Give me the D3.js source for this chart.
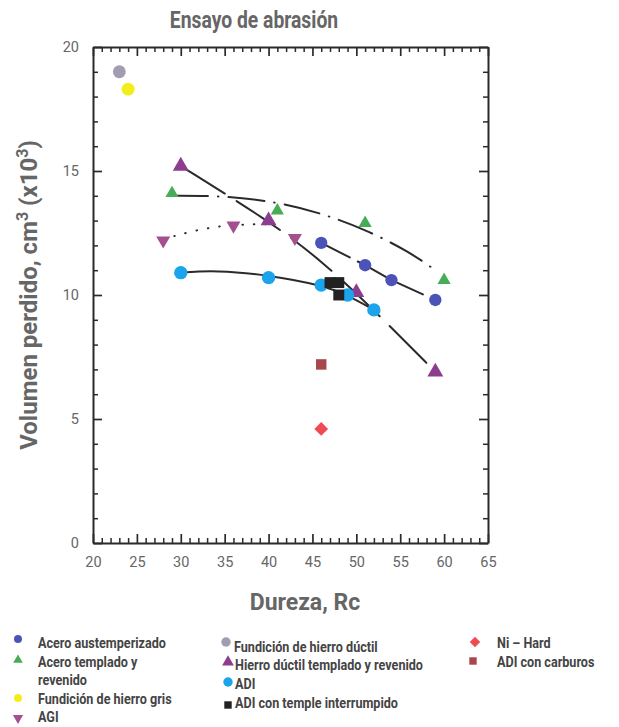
<!DOCTYPE html>
<html>
<head>
<meta charset="utf-8">
<script src="https://cdn.jsdelivr.net/npm/d3@7"></script>
<style>
  body { margin: 0; background: #fff; }
  svg { display: block; }
  text { font-family: "Roboto", "DejaVu Sans", sans-serif; }
</style>
</head>
<body>
<svg id="chart" width="619" height="727"></svg>
<script>
// Measured points, Dureza (Rc) vs volumen perdido (cm3 x10^3)
var aceroAustemperizado = [[46, 12.1], [51, 11.2], [54, 10.6], [59, 9.8]];
var aceroTemplado = [[29, 14.1], [41, 13.4], [51, 12.9], [60, 10.6]];
var hierroGris = [[24, 18.3]];
var hierroDuctil = [[23, 19.0]];
var agi = [[28, 12.2], [36, 12.8], [43, 12.3]];
var hierroDuctilTR = [[30, 15.2], [40, 13.0], [50, 10.1], [59, 6.9]];
var adi = [[30, 10.9], [40, 10.7], [46, 10.4], [49, 10.0], [52, 9.4]];
var adiTempleInterrumpido = [[47, 10.5], [48, 10.5], [48, 10.0]];
var niHard = [[46, 4.6]];
var adiCarburos = [[46, 7.2]];

// Trend curves
var fitAustemper = [[46, 12.1], [51, 11.2], [54, 10.6], [59, 9.8]];
var fitTemplado = [[29, 14.0], [35, 14.0], [41, 13.75], [46, 13.3], [51, 12.65], [56, 11.75], [59.2, 10.95]];
var fitHierroDuctilTR = [[30, 15.2], [40, 13.0], [46, 11.4], [52, 9.4], [59, 6.9]];
var fitAgi = [[28, 12.25], [32, 12.65], [36, 12.85], [40, 12.85]];
var fitAdi = [[30, 10.9], [34, 11.0], [40, 10.8], [46, 10.4], [49, 10.0], [52, 9.4]];

var xTicks = [20, 25, 30, 35, 40, 45, 50, 55, 60, 65];
var yTicks = [0, 5, 10, 15, 20];
var xMinorTicks = d3.range(21, 65, 1).filter(function (d) { return d % 5 !== 0; });
var yMinorTicks = d3.range(1, 20, 1).filter(function (d) { return d % 5 !== 0; });

var svg = d3.select("#chart");
var x = d3.scaleLinear().domain([20, 65]).range([93, 488]);
var y = d3.scaleLinear().domain([0, 20]).range([543, 47]);

var ink = "#2a2a2a";
var labelGray = "#666";

// squeeze a text horizontally to mimic the condensed face of the original
function condense(sel, k) {
  sel.each(function () {
    var w = this.getComputedTextLength();
    d3.select(this).attr("textLength", w * k).attr("lengthAdjust", "spacingAndGlyphs");
  });
}

// title
svg.append("text")
  .attr("x", 254).attr("y", 28)
  .attr("text-anchor", "middle")
  .attr("font-size", 23).attr("font-weight", "bold")
  .attr("fill", labelGray)
  .text("Ensayo de abrasión")
  .call(condense, 0.84);

// axes: the domain lines form the frame, ticks point inward on all four sides
function styleAxis(g) {
  g.select(".domain").attr("stroke", ink).attr("stroke-width", 2);
  g.selectAll(".tick line").attr("stroke", ink).attr("stroke-width", 1.7);
  g.selectAll(".tick text").attr("fill", labelGray).attr("font-size", 14.5)
    .attr("font-family", "Roboto, sans-serif");
}
function minorOnly(g) {
  g.select(".domain").remove();
  g.selectAll(".tick line").attr("stroke", ink).attr("stroke-width", 1.5);
}

var axBottom = svg.append("g").attr("transform", "translate(0," + y(0) + ")");
axBottom.append("g").call(d3.axisBottom(x).tickValues(xMinorTicks).tickSize(-5).tickFormat("")).call(minorOnly);
axBottom.append("g").call(d3.axisBottom(x).tickValues(xTicks).tickSizeInner(-9).tickSizeOuter(0).tickPadding(14)).call(styleAxis);

var axTop = svg.append("g").attr("transform", "translate(0," + y(20) + ")");
axTop.append("g").call(d3.axisTop(x).tickValues(xMinorTicks).tickSize(-5).tickFormat("")).call(minorOnly);
axTop.append("g").call(d3.axisTop(x).tickValues(xTicks).tickSizeInner(-9).tickSizeOuter(0).tickFormat("")).call(styleAxis);

var axLeft = svg.append("g").attr("transform", "translate(" + x(20) + ",0)");
axLeft.append("g").call(d3.axisLeft(y).tickValues(yMinorTicks).tickSize(-5).tickFormat("")).call(minorOnly);
axLeft.append("g").call(d3.axisLeft(y).tickValues(yTicks).tickSizeInner(-9).tickSizeOuter(0).tickPadding(14)).call(styleAxis);

var axRight = svg.append("g").attr("transform", "translate(" + x(65) + ",0)");
axRight.append("g").call(d3.axisRight(y).tickValues(yMinorTicks).tickSize(-5).tickFormat("")).call(minorOnly);
axRight.append("g").call(d3.axisRight(y).tickValues(yTicks).tickSizeInner(-9).tickSizeOuter(0).tickFormat("")).call(styleAxis);

// axis titles
svg.append("text")
  .attr("x", 305).attr("y", 610)
  .attr("text-anchor", "middle")
  .attr("font-size", 23).attr("font-weight", "bold")
  .attr("fill", labelGray)
  .text("Dureza, Rc");

var yTitle = svg.append("text")
  .attr("transform", "translate(37,295) rotate(-90)")
  .attr("text-anchor", "middle")
  .attr("font-size", 24).attr("font-weight", "bold")
  .attr("fill", labelGray);
yTitle.append("tspan").text("Volumen perdido, cm");
yTitle.append("tspan").attr("dy", -9).attr("font-size", 16).text("3");
yTitle.append("tspan").attr("dy", 9).text(" (x10");
yTitle.append("tspan").attr("dy", -9).attr("font-size", 16).text("3");
yTitle.append("tspan").attr("dy", 9).text(")");

// trend lines
function fitLine(data, curve, dash) {
  var line = d3.line()
    .x(function (d) { return x(d[0]); })
    .y(function (d) { return y(d[1]); })
    .curve(curve);
  svg.append("path")
    .attr("d", line(data))
    .attr("fill", "none")
    .attr("stroke", ink)
    .attr("stroke-width", 2)
    .attr("stroke-linecap", "round")
    .attr("stroke-dasharray", dash);
}

fitLine(fitAdi, d3.curveBasis, null);
fitLine(fitAgi, d3.curveBasis, "0.5,11");
fitLine(fitTemplado, d3.curveBasis, "36,10,0.5,10");
fitLine(fitHierroDuctilTR, d3.curveBasis, "52,14");
fitLine(fitAustemper, d3.curveLinear, "32,9");

// markers
var colors = {
  austemper: "#4b52b8",
  templado: "#45ad55",
  gris: "#f2ee1e",
  ductil: "#a19cb0",
  agi: "#a4508e",
  ductilTR: "#8c3d8f",
  adi: "#1ba3ec",
  temple: "#222222",
  niHard: "#f04a52",
  carburos: "#a8484c"
};

// "down" = inverted triangle, "diamond" = square turned 45 degrees
function drawSym(type, size) {
  var t = type;
  if (type === "down") t = d3.symbolTriangle;
  if (type === "diamond") t = d3.symbolSquare;
  return d3.symbol().type(t).size(size);
}
function rotFor(type) {
  if (type === "down") return " rotate(180)";
  if (type === "diamond") return " rotate(45)";
  return "";
}

function markerSet(data, type, size, color) {
  svg.append("g").selectAll("path").data(data).enter().append("path")
    .attr("d", drawSym(type, size))
    .attr("transform", function (d) {
      return "translate(" + x(d[0]) + "," + y(d[1]) + ")" + rotFor(type);
    })
    .attr("fill", color);
}

markerSet(hierroDuctil, d3.symbolCircle, 130, colors.ductil);
markerSet(hierroGris, d3.symbolCircle, 130, colors.gris);
markerSet(aceroTemplado, d3.symbolTriangle, 75, colors.templado);
markerSet(agi, "down", 85, colors.agi);
markerSet(hierroDuctilTR, d3.symbolTriangle, 110, colors.ductilTR);
markerSet(aceroAustemperizado, d3.symbolCircle, 120, colors.austemper);
markerSet(adi, d3.symbolCircle, 140, colors.adi);
markerSet(adiTempleInterrumpido, d3.symbolSquare, 120, colors.temple);
markerSet(niHard, "diamond", 95, colors.niHard);
markerSet(adiCarburos, d3.symbolSquare, 110, colors.carburos);

// legend
var legendItems = [
  { label: "Acero austemperizado", type: d3.symbolCircle, size: 50, color: colors.austemper, mx: 18, my: 639, tx: 38, ty: 648 },
  { label: "Acero templado y", type: d3.symbolTriangle, size: 40, color: colors.templado, mx: 18, my: 660, tx: 38, ty: 667 },
  { label: "revenido", type: null, tx: 38, ty: 685 },
  { label: "Fundición de hierro gris", type: d3.symbolCircle, size: 50, color: colors.gris, mx: 18, my: 698, tx: 38, ty: 704 },
  { label: "AGI", type: "down", size: 45, color: colors.agi, mx: 18, my: 718, tx: 38, ty: 722 },
  { label: "Fundición de hierro dúctil", type: d3.symbolCircle, size: 70, color: colors.ductil, mx: 226, my: 642, tx: 234, ty: 652 },
  { label: "Hierro dúctil templado y revenido", type: d3.symbolTriangle, size: 60, color: colors.ductilTR, mx: 228, my: 662, tx: 235, ty: 670 },
  { label: "ADI", type: d3.symbolCircle, size: 70, color: colors.adi, mx: 228, my: 682, tx: 235, ty: 689 },
  { label: "ADI con temple interrumpido", type: d3.symbolSquare, size: 55, color: colors.temple, mx: 228, my: 705, tx: 235, ty: 708 },
  { label: "Ni \u2013 Hard", type: "diamond", size: 55, color: colors.niHard, mx: 475, my: 642, tx: 497, ty: 648 },
  { label: "ADI con carburos", type: d3.symbolSquare, size: 55, color: colors.carburos, mx: 473, my: 661, tx: 497, ty: 667 }
];

var legend = svg.append("g");
legendItems.forEach(function (it) {
  if (it.type) {
    legend.append("path")
      .attr("d", drawSym(it.type, it.size))
      .attr("transform", "translate(" + it.mx + "," + it.my + ")" + rotFor(it.type))
      .attr("fill", it.color);
  }
  legend.append("text")
    .attr("x", it.tx).attr("y", it.ty)
    .attr("font-size", 15).attr("font-weight", "bold")
    .attr("fill", "#444")
    .text(it.label)
    .call(condense, 0.84);
});
</script>
</body>
</html>
